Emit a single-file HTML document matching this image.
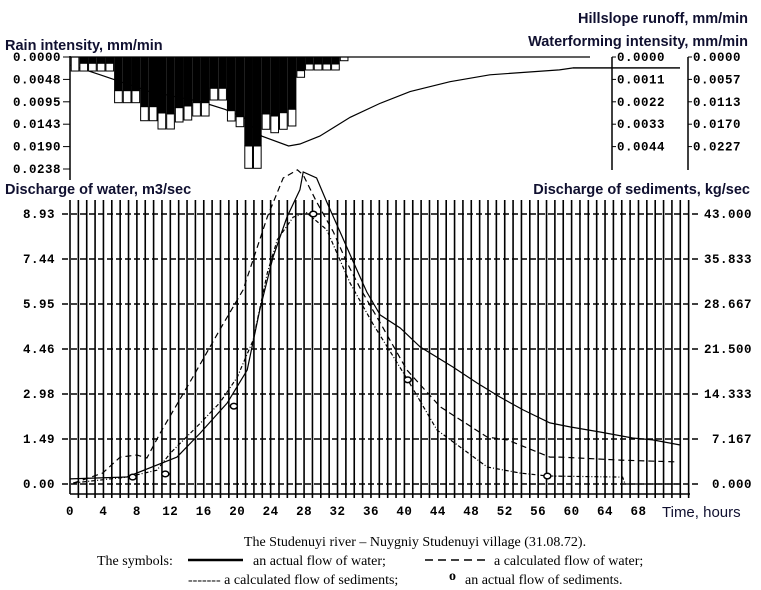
<!DOCTYPE html>
<html><head><meta charset="utf-8"><style>
body{margin:0;background:#fff;}
svg{display:block;}
.t{font-family:"Liberation Sans",sans-serif;font-weight:bold;font-size:14.5px;fill:#101030;}
.n{font-family:"Liberation Mono",monospace;font-weight:bold;font-size:12.5px;fill:#000;letter-spacing:0.5px;}
.c{font-family:"Liberation Serif",serif;font-size:14px;fill:#000;}
</style></head><body>
<svg id="chart" width="761" height="590" xmlns="http://www.w3.org/2000/svg">
<text class="t" x="5" y="50">Rain intensity, mm/min</text>
<text class="t" x="748" y="23" text-anchor="end">Hillslope runoff, mm/min</text>
<text class="t" x="748" y="46" text-anchor="end">Waterforming intensity, mm/min</text>
<text class="t" x="5" y="194">Discharge of water, m3/sec</text>
<text class="t" x="750" y="194" text-anchor="end">Discharge of sediments, kg/sec</text>
<g id="topPanel"></g>
<g id="bottomPanel"></g>
<text class="t" x="662" y="517" style="font-weight:normal;font-size:15px">Time, hours</text>
<text class="c" x="415" y="546" text-anchor="middle">The Studenuyi river – Nuygniy Studenuyi village (31.08.72).</text>
<g>
<text class="c" x="97" y="565">The symbols:</text>
<line x1="188" y1="560" x2="243" y2="560" stroke="#000" stroke-width="2.5"/>
<text class="c" x="253" y="565">an actual flow of water;</text>
<line x1="425" y1="560" x2="487" y2="560" stroke="#000" stroke-width="1.5" stroke-dasharray="8,5"/>
<text class="c" x="494" y="565">a calculated flow of water;</text>
<text class="c" x="188" y="584">------- a calculated flow of sediments;</text>
<text class="c" x="449" y="580" style="font-weight:bold">o</text>
<text class="c" x="465" y="584">an actual flow of sediments.</text>
</g>
</svg>
<script>
// ---- top panel data ----
const rainTotal = [0.00298,0.00298,0.00298,0.00298,0.00298,0.00971,0.00971,0.00971,0.01354,0.01354,0.0153,0.0153,0.01381,0.01339,0.01254,0.01254,0.00914,0.00914,0.0136,0.01481,0.02365,0.02365,0.01536,0.01609,0.01536,0.01466,0.00431,0.00276,0.00276,0.00276,0.00276,0.00079];
const rainLoss = [0.00298,0.00164,0.00164,0.00164,0.00164,0.00255,0.00255,0.00255,0.00298,0.00298,0.0034,0.0032,0.00304,0.00298,0.00283,0.00283,0.00249,0.00249,0.00219,0.00212,0.00474,0.00474,0.00325,0.00355,0.00352,0.00355,0.0014,0.00127,0.00127,0.00127,0.00127,0.00079];
const runoffHours = [3.4,9.1,14.9,17.8,19.9,22.0,25.1,26.4,28.7,32.2,35.6,39.1,43.7,48.3,56.3,57.9,70.2];
const runoffValues = [0.00088,0.00171,0.0022,0.00259,0.00298,0.00391,0.0044,0.0043,0.00391,0.00298,0.0023,0.00171,0.00122,0.00088,0.00064,0.00054,0.00054];
const rainTicks = ["0.0000","0.0048","0.0095","0.0143","0.0190","0.0238"];
const runoffTicks = ["0.0000","0.0011","0.0022","0.0033","0.0044"];
const wfTicks = ["0.0000","0.0057","0.0113","0.0170","0.0227"];
// ---- bottom panel data ----
const waterTicks = ["0.00","1.49","2.98","4.46","5.95","7.44","8.93"];
const sedTicks = ["0.000","7.167","14.333","21.500","28.667","35.833","43.000"];
const hourTicks = [0,4,8,12,16,20,24,28,32,36,40,44,48,52,56,60,64,68];
const actHours = [0,6.8,12.8,15.6,18.8,21.2,22.7,24.3,25.96,27.5,27.9,29.5,30.7,32.3,33.9,35.5,37.1,39.5,41.9,45.8,48.7,51.4,54.2,57.4,59.8,63.4,67.3,69.7,73.0];
const actWater = [0.17,0.23,0.89,1.69,2.68,3.77,5.76,7.51,8.83,9.73,10.32,10.12,9.33,8.34,7.34,6.35,5.59,5.16,4.53,3.87,3.34,2.88,2.45,2.02,1.89,1.72,1.52,1.46,1.29];
const calcHours = [0.4,3.9,6.0,8.0,9.2,10.8,14.7,17.9,20.7,23.6,25.5,27.2,27.9,29.5,31.5,33.1,34.7,37.1,40.3,44.3,49.9,52.3,57.4,58.6,65.8,72.6];
const calcWater = [0.03,0.36,0.89,0.96,0.86,1.69,3.54,5.09,6.42,8.83,10.12,10.39,10.22,9.33,8.34,7.34,6.48,5.33,3.77,2.55,1.55,1.46,0.89,0.89,0.79,0.73];
const sedHours = [0.4,6.8,10.4,12.0,15.6,17.9,20.0,21.9,23.6,24.8,26.7,28.3,30.7,33.5,36.2,40.4,43.9,49.9,53.8,57.1,66.1,66.4,73];
const sedCalc = [0.16,1.1,2.2,4.9,9.7,12.9,17.0,22.9,33.6,38.9,42.5,43.2,40.5,32.0,25.6,16.6,8.6,2.7,1.75,1.27,1.1,0,0];
const obsHours = [7.5,11.4,19.6,29.1,40.4,57.1];
const obsSed = [1.1,1.6,12.4,43,16.6,1.27];

const NS="http://www.w3.org/2000/svg";
function mk(parent,tag,attrs){const e=document.createElementNS(NS,tag);for(const k in attrs)e.setAttribute(k,attrs[k]);parent.appendChild(e);return e;}
const topG=document.getElementById('topPanel'), botG=document.getElementById('bottomPanel');

const bx0=70.7, bw=8.68;
const rainY=v=>57+v*112/0.0238;
const runX=h=>bx0+h*bw;
const runY=v=>57+v*(89/0.0044);

let d='M'+runX(0)+','+runY(0.0004);
runoffHours.forEach((h,i)=>{d+=' L'+runX(h).toFixed(1)+','+runY(runoffValues[i]).toFixed(1);});
let e=mk(topG,'path',{d:d,fill:'none',stroke:'#000','stroke-width':1.2});


rainTotal.forEach((t,i)=>{
  const x=bx0+i*bw, net=t-rainLoss[i];
  const r1=mk(topG,'rect',{x:x,y:57,width:bw,height:Math.max(0,rainY(net)-57),fill:'#000'});
  
  
  const r2=mk(topG,'rect',{x:x+0.5,y:rainY(net),width:bw-1,height:rainY(t)-rainY(net),fill:'#fff',stroke:'#000','stroke-width':1});
  
  
});
mk(topG,'line',{x1:70,y1:57,x2:590,y2:57,stroke:'#000','stroke-width':1.2});
mk(topG,'line',{x1:573,y1:68,x2:680,y2:68,stroke:'#000','stroke-width':1.2});
mk(topG,'line',{x1:70,y1:56,x2:70,y2:180,stroke:'#000','stroke-width':1.5});
rainTicks.forEach((t,i)=>{const y=57+i*22.4;mk(topG,'line',{x1:63,y1:y,x2:70,y2:y,stroke:'#000'});
  const tx=mk(topG,'text',{x:61,y:y+4,'text-anchor':'end','class':'n'});tx.textContent=t;
  
  });
[[612,runoffTicks],[688,wfTicks]].forEach(([ax,ticks])=>{
  mk(topG,'line',{x1:ax,y1:57,x2:ax,y2:170,stroke:'#000','stroke-width':1.5});
  ticks.forEach((t,i)=>{const y=57+i*22.4;mk(topG,'line',{x1:ax,y1:y,x2:ax+4,y2:y,stroke:'#000'});
    const tx=mk(topG,'text',{x:ax+5,y:y+4,'class':'n'});tx.textContent=t;
    
    });
});

const X=h=>70+h*8.36;
const YW=q=>484-q*270/8.93;
const YS=s=>484-s*270/43;
for(let h=1;h<=74;h++){mk(botG,'line',{x1:X(h),y1:200,x2:X(h),y2:498,stroke:'#000','stroke-width':1.6});}
mk(botG,'line',{x1:70,y1:200,x2:70,y2:494,stroke:'#000','stroke-width':1.6});
mk(botG,'line',{x1:70,y1:494,x2:690,y2:494,stroke:'#000','stroke-width':1.6});
waterTicks.forEach((t,i)=>{const y=484-i*45;
  mk(botG,'line',{x1:62,y1:y,x2:698,y2:y,stroke:'#000','stroke-width':1.4,'stroke-dasharray':'6,3'});
  const a=mk(botG,'text',{x:55,y:y+4,'text-anchor':'end','class':'n'});a.textContent=t;
  
  
  const b=mk(botG,'text',{x:752,y:y+4,'text-anchor':'end','class':'n'});b.textContent=sedTicks[i];
  
  });
hourTicks.forEach(h=>{const a=mk(botG,'text',{x:X(h),y:515,'text-anchor':'middle','class':'n'});a.textContent=h;
  
  });
function line(hs,vs,Y,attrs){let p='';hs.forEach((h,i)=>{p+=(i?' L':'M')+X(h).toFixed(1)+','+Y(vs[i]).toFixed(1);});
  return mk(botG,'path',Object.assign({d:p,fill:'none',stroke:'#000','stroke-width':1.2},attrs));}
e=line(actHours,actWater,YW,{});


e=line(calcHours,calcWater,YW,{'stroke-dasharray':'6,4'});


e=line(sedHours,sedCalc,YS,{'stroke-dasharray':'4,2,1,2'});


obsHours.forEach((h,i)=>{const c=mk(botG,'ellipse',{cx:X(h),cy:YS(obsSed[i]),rx:3.5,ry:2.8,fill:'#fff',stroke:'#000','stroke-width':1.5});
  
  });
</script>
</body></html>
